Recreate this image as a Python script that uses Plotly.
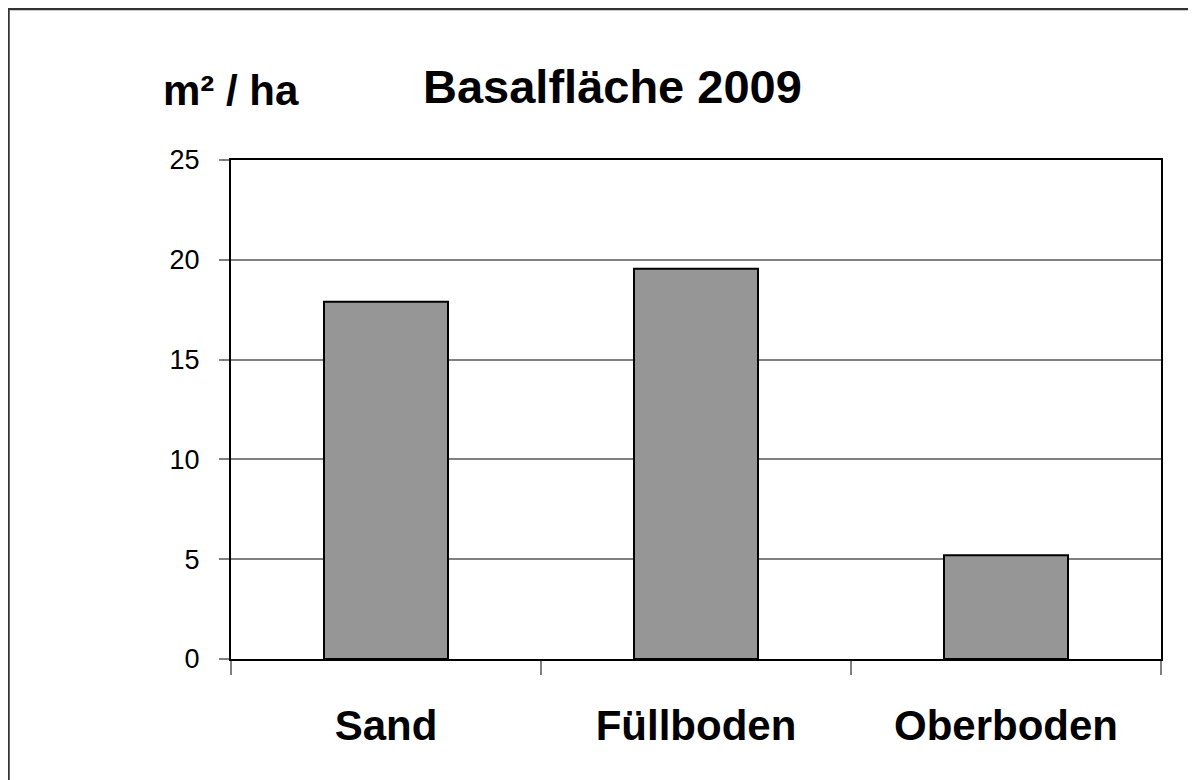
import plotly.graph_objects as go

categories = ["Sand", "Füllboden", "Oberboden"]
values = [17.9, 19.55, 5.2]
y_ticks = [0, 5, 10, 15, 20, 25]
title_text = "Basalfläche 2009"
y_title_text = "m² / ha"

# page body has an 8px margin; figure placed at (8, 8) in the window
OFF = 8
W, H = 1196 - OFF, 780 - OFF
PL, PR, PT, PB = 231, 1161, 160, 659  # plot area in window pixels
L, R, T, B = PL - OFF, 1196 - PR, PT - OFF, 780 - PB
pw, ph = PR - PL, PB - PT


def px(x):
    return (x - PL) / pw


def py(y):
    return (PB - y) / ph


fig = go.Figure()
fig.add_trace(go.Bar(
    x=categories, y=values, width=0.4,
    marker=dict(color="#969696", line=dict(color="#000000", width=2)),
))

fig.update_layout(
    width=W, height=H,
    margin=dict(l=L, r=R, t=T, b=B, pad=0),
    paper_bgcolor="white", plot_bgcolor="white",
    showlegend=False,
    font=dict(family="Liberation Sans, Arial, sans-serif", color="black"),
    xaxis=dict(
        type="category", showline=True, linecolor="black", linewidth=2, mirror=True,
        ticks="outside", tickson="boundaries", ticklen=14, tickcolor="#808080", tickwidth=1.5,
        tickfont=dict(size=42, family="Liberation Sans, Arial, sans-serif", weight="bold"),
        ticklabelstandoff=29, showgrid=False,
    ),
    yaxis=dict(
        range=[0, 25], tickvals=y_ticks, showline=True, linecolor="black", linewidth=2, mirror=True,
        ticks="outside", ticklen=10, tickcolor="#808080", tickwidth=1.5,
        tickfont=dict(size=27), ticklabelstandoff=14,
        showgrid=True, gridcolor="#808080", gridwidth=1.5, zeroline=False,
    ),
    annotations=[
        dict(text=title_text, xref="paper", yref="paper", x=px(612), y=py(87),
             xanchor="center", yanchor="middle", showarrow=False,
             font=dict(size=47, weight="bold")),
        dict(text=y_title_text, xref="paper", yref="paper", x=px(231), y=py(90),
             xanchor="center", yanchor="middle", showarrow=False,
             font=dict(size=42, weight="bold")),
    ],
    shapes=[
        dict(type="line", xref="paper", yref="paper", x0=px(8.5), x1=px(8.5), y0=py(8), y1=py(800),
             line=dict(color="#333333", width=2.5)),
        dict(type="line", xref="paper", yref="paper", x0=px(7), x1=px(1196), y0=py(9), y1=py(9),
             line=dict(color="#333333", width=2.5)),
        dict(type="line", xref="paper", yref="paper", x0=px(1195), x1=px(1195), y0=py(9), y1=py(800),
             line=dict(color="#888888", width=1)),
    ],
)

fig.write_html("out.html")
